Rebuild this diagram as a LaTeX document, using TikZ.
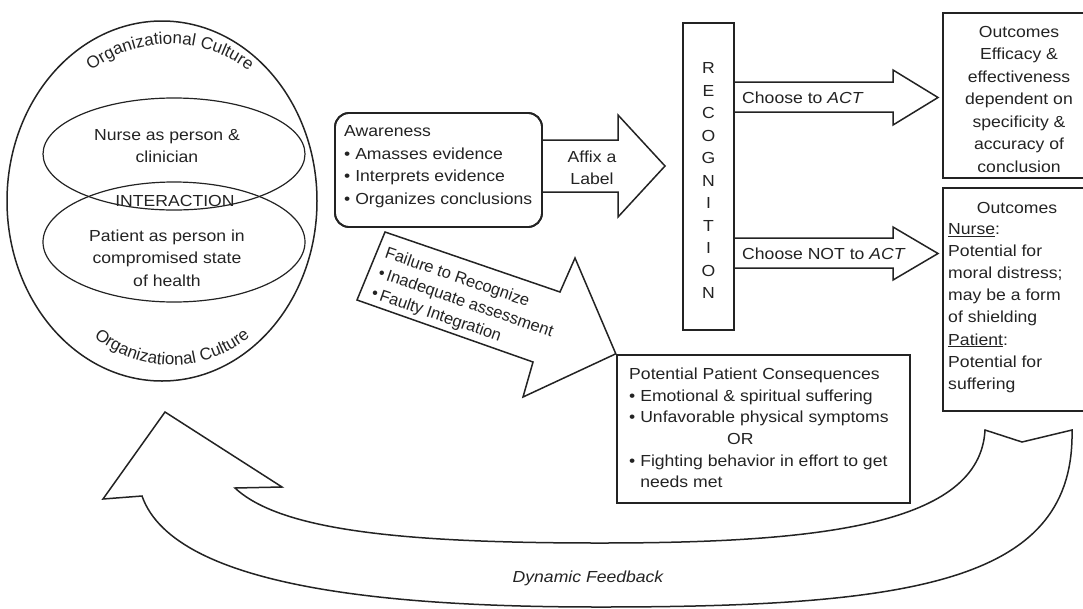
\documentclass[tikz,border=0pt]{standalone}
\usepackage{fontspec}
\setmainfont{Liberation Sans}
\usetikzlibrary{shapes.geometric,decorations.text,calc}
\definecolor{ink}{RGB}{35,35,35}
\begin{document}
\begin{tikzpicture}[x=1pt,y=-1pt,
  txt/.style={inner sep=0pt, text=ink, font=\fontsize{16}{22.5}\selectfont, xscale=1.1},
  ring/.style={ellipse, draw=ink, line width=1.5pt, inner sep=0pt},
  boxline/.style={draw=ink, line width=2.4pt, inner sep=0pt},
  barrow/.style={draw=ink, line width=1.5pt, fill=white, line join=miter},
]
\useasboundingbox (0,0) rectangle (1083,608);
\clip (0,0) rectangle (1083,608);

% ---------- left: culture circle ----------
\node[ring, minimum width=310pt, minimum height=360pt] (culture) at (162,201) {};
\node[ring, line width=1.2pt, minimum width=262pt, minimum height=112pt] (nurse) at (174,154) {};
\node[ring, line width=1.2pt, minimum width=262pt, minimum height=120pt] (patient) at (174,242) {};
\node[txt, align=center] (nursetxt) at (167,146) {Nurse as person \&\\clinician};
\node[txt] (inter) at (175,201) {INTERACTION};
\node[txt, align=center] (pattxt) at (167,258) {Patient as person in\\compromised state\\of health};
\path[decorate, decoration={text along path, text align=center, text color=ink,
  text={|\fontsize{17}{20}\selectfont|Organizational Culture}}]
  (170,174) ++(-140:130) arc[start angle=-140, end angle=-40, radius=130];
\path[decorate, decoration={text along path, text align=center, text color=ink,
  text={|\fontsize{17}{20}\selectfont|Organizational Culture}}]
  (172,242) ++(145:123) arc[start angle=145, end angle=35, radius=123];

% ---------- block arrows ----------
\node[draw=ink, line width=1.8pt, rounded corners=14pt, minimum width=207pt, minimum height=114pt, inner sep=0pt] (aware) at (438.5,170) {};
\node[boxline, minimum width=51pt, minimum height=307pt] (recog) at (708.5,176.5) {};
\node[boxline, minimum width=152pt, minimum height=165pt] (out1) at (1019,95.5) {};
\node[boxline, minimum width=152pt, minimum height=223pt] (out2) at (1019,299.5) {};
\node[boxline, minimum width=293pt, minimum height=148pt] (cons) at (763.5,429) {};

\draw[barrow] (aware.east |- 0,140) -- (618,140) -- (618,115) -- (665,166)
  -- (618,217) -- (618,192) -- (aware.east |- 0,192);
\draw[barrow] (recog.east |- 0,82) -- (893,82) -- (893,70) -- (938,97.5)
  -- (893,125) -- (893,112) -- (recog.east |- 0,112);
\draw[barrow] (recog.east |- 0,238) -- (893,238) -- (893,227) -- (938,253.5)
  -- (893,280) -- (893,268) -- (recog.east |- 0,268);
\draw[barrow] (385,232) -- (560,292) -- (575,258) -- (cons.north west)
  -- (523,397) -- (533,362) -- (357,300) -- cycle;

% redraw box outlines on top of arrow fills
\node[draw=ink, line width=1.8pt, rounded corners=14pt, minimum width=207pt, minimum height=114pt, inner sep=0pt] at (aware) {};
\node[boxline, minimum width=51pt, minimum height=307pt] at (recog) {};

% ---------- texts ----------
\node[txt, align=left, anchor=west] (awaretxt) at (344,166.5)
  {Awareness\\\textbullet\ Amasses evidence\\\textbullet\ Interprets evidence\\\textbullet\ Organizes conclusions};
\node[txt, align=center] (affix) at (592,168) {Affix a\\Label};
\node[txt, align=center] (recogtxt) at (708.5,180.5) {R\\E\\C\\O\\G\\N\\I\\T\\I\\O\\N};
\node[txt, anchor=west] (act) at (742,97.5) {Choose to \textit{ACT}};
\node[txt, anchor=west] (noact) at (742,253.5) {Choose NOT to \textit{ACT}};
\node[txt, align=center] (out1txt) at (1019,99) {Outcomes\\Efficacy \&\\effectiveness\\dependent on\\specificity \&\\accuracy of\\conclusion};
\node[txt] (out2head) at (1017,208) {Outcomes};
\node[txt, align=left, anchor=west, font=\fontsize{16}{22.1}\selectfont] (out2txt) at (948,308)
  {\underline{Nurse}:\\Potential for\\moral distress;\\may be a form\\of shielding\\\underline{Patient}:\\Potential for\\suffering};
\node[txt, align=left, anchor=west, font=\fontsize{16}{21.6}\selectfont] (constxt) at (629,428)
  {Potential Patient Consequences\\\textbullet\ Emotional \& spiritual suffering\\\textbullet\ Unfavorable physical symptoms\\\hspace*{89pt}OR\\\textbullet\ Fighting behavior in effort to get\\\phantom{\textbullet\ }needs met};
\node[inner sep=0pt, text=ink, font=\fontsize{16.5}{21}\selectfont, rotate=-19, anchor=north west, align=left] (failtxt) at (388,246)
  {Failure to Recognize\\\textbullet\,Inadequate assessment\\\textbullet\,Faulty Integration};

% ---------- dynamic feedback arrow ----------
\coordinate (fbhead) at (165,412);
\coordinate (fbtail) at (1022,442);
\draw[barrow] (235,488) -- (282,487) -- (fbhead) -- (103,499) -- (142,496)
  .. controls (175,590) and (400,607) .. (600,607)
  .. controls (920,607) and (1075,580) .. (1072,430)
  -- (fbtail) -- (985,430)
  .. controls (980,525) and (820,543) .. (600,543)
  .. controls (400,543) and (280,530) .. (235,488) -- cycle;
\node[txt] (fbtxt) at (588,578) {\itshape Dynamic Feedback};
\end{tikzpicture}
\end{document}
